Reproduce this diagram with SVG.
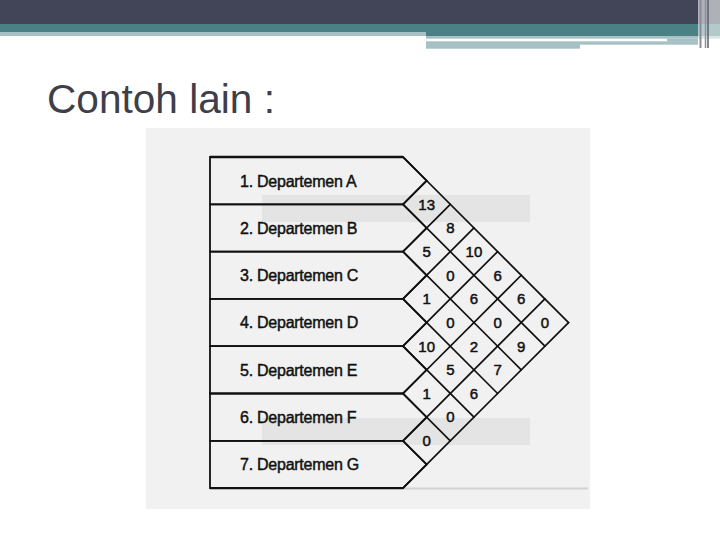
<svg xmlns="http://www.w3.org/2000/svg" width="720" height="540" viewBox="0 0 720 540">
<style>
.dep{font-family:"Liberation Sans",Arial,sans-serif;font-size:16px;fill:#111;stroke:#111;stroke-width:0.45;letter-spacing:-0.25px}
.num{font-family:"Liberation Sans",Arial,sans-serif;font-size:15px;fill:#111;stroke:#111;stroke-width:0.5;text-anchor:middle}
.box{fill:none;stroke:#111;stroke-width:1.8;stroke-linejoin:miter}
.grid line{stroke:#111;stroke-width:1.7;stroke-linecap:round}
.band-light{fill:#a6c1c3}
.teal{fill:#4a8185}
</style>
<rect width="720" height="540" fill="#ffffff"/>
<!-- header -->
<g id="header">
<rect x="0" y="0" width="720" height="24" fill="#424457"/>
<rect x="0" y="24" width="426" height="8" class="teal"/>
<rect x="426" y="24" width="294" height="12" class="teal"/>
<rect x="0" y="32" width="426" height="4" class="band-light"/>
<rect x="426" y="36" width="294" height="2.7" class="band-light"/>
<rect x="426" y="41.3" width="154" height="7.4" class="band-light"/>
<rect x="580" y="41.3" width="118" height="3.4" class="band-light"/>
<rect x="667" y="38.7" width="31" height="3" class="band-light"/>
<rect x="698" y="0" width="22" height="48" fill="#ffffff" fill-opacity="0.58"/>
<line x1="700.5" y1="0" x2="700.5" y2="48" stroke="#8a8b99" stroke-width="2"/>
<line x1="705.5" y1="0" x2="705.5" y2="48" stroke="#8f909c" stroke-width="1.5"/>
<line x1="708" y1="0" x2="708" y2="48" stroke="#5c5e6e" stroke-width="1.5"/>
</g>
<text x="47" y="113" font-family="Liberation Sans,Arial,sans-serif" font-size="41" fill="#3f3f4a" textLength="228" lengthAdjust="spacingAndGlyphs">Contoh lain :</text>
<!-- scanned area -->
<rect x="146" y="128" width="444" height="381" fill="#f1f1f1"/>
<rect x="262" y="195" width="268" height="27" fill="#e4e4e4"/>
<rect x="262" y="418" width="268" height="27" fill="#e4e4e4"/>
<line x1="403" y1="488.5" x2="588" y2="488.5" stroke="#d2d2d2" stroke-width="2"/>
<!-- departments -->
<g id="dept-A"><polygon class="box" points="210,157 403,157 426.65,180.65 403,204.3 210,204.3"/><text class="dep" x="240" y="186.5">1. Departemen A</text></g>
<g id="dept-B"><polygon class="box" points="210,204.3 403,204.3 426.65,227.95 403,251.6 210,251.6"/><text class="dep" x="240" y="233.8">2. Departemen B</text></g>
<g id="dept-C"><polygon class="box" points="210,251.6 403,251.6 426.65,275.25 403,298.9 210,298.9"/><text class="dep" x="240" y="281.1">3. Departemen C</text></g>
<g id="dept-D"><polygon class="box" points="210,298.9 403,298.9 426.65,322.55 403,346.2 210,346.2"/><text class="dep" x="240" y="328.4">4. Departemen D</text></g>
<g id="dept-E"><polygon class="box" points="210,346.2 403,346.2 426.65,369.85 403,393.5 210,393.5"/><text class="dep" x="240" y="375.7">5. Departemen E</text></g>
<g id="dept-F"><polygon class="box" points="210,393.5 403,393.5 426.65,417.15 403,440.8 210,440.8"/><text class="dep" x="240" y="423">6. Departemen F</text></g>
<g id="dept-G"><polygon class="box" points="210,440.8 403,440.8 426.65,464.45 403,488.1 210,488.1"/><text class="dep" x="240" y="470.3">7. Departemen G</text></g>
<line x1="210" y1="157" x2="403" y2="157" stroke="#111" stroke-width="2.4"/>
<line x1="210" y1="488.1" x2="403" y2="488.1" stroke="#111" stroke-width="2.4"/>
<!-- lattice -->
<g id="connectors" class="grid">
<line x1="403" y1="157" x2="568.55" y2="322.55"/>
<line x1="403" y1="204.3" x2="544.9" y2="346.2"/>
<line x1="403" y1="251.6" x2="521.25" y2="369.85"/>
<line x1="403" y1="298.9" x2="497.6" y2="393.5"/>
<line x1="403" y1="346.2" x2="473.95" y2="417.15"/>
<line x1="403" y1="393.5" x2="450.3" y2="440.8"/>
<line x1="403" y1="440.8" x2="426.65" y2="464.45"/>
<line x1="403" y1="204.3" x2="426.65" y2="180.65"/>
<line x1="403" y1="251.6" x2="450.3" y2="204.3"/>
<line x1="403" y1="298.9" x2="473.95" y2="227.95"/>
<line x1="403" y1="346.2" x2="497.6" y2="251.6"/>
<line x1="403" y1="393.5" x2="521.25" y2="275.25"/>
<line x1="403" y1="440.8" x2="544.9" y2="298.9"/>
<line x1="403" y1="488.1" x2="568.55" y2="322.55"/>
</g>
<!-- cells -->
<g id="cell-AB"><text class="num" x="426.65" y="209.6">13</text></g>
<g id="cell-BC"><text class="num" x="426.65" y="256.9">5</text></g>
<g id="cell-CD"><text class="num" x="426.65" y="304.2">1</text></g>
<g id="cell-DE"><text class="num" x="426.65" y="351.5">10</text></g>
<g id="cell-EF"><text class="num" x="426.65" y="398.8">1</text></g>
<g id="cell-FG"><text class="num" x="426.65" y="446.1">0</text></g>
<g id="cell-AC"><text class="num" x="450.3" y="233.3">8</text></g>
<g id="cell-BD"><text class="num" x="450.3" y="280.55">0</text></g>
<g id="cell-CE"><text class="num" x="450.3" y="327.85">0</text></g>
<g id="cell-DF"><text class="num" x="450.3" y="375.15">5</text></g>
<g id="cell-EG"><text class="num" x="450.3" y="422.45">0</text></g>
<g id="cell-AD"><text class="num" x="473.95" y="256.9">10</text></g>
<g id="cell-BE"><text class="num" x="473.95" y="304.2">6</text></g>
<g id="cell-CF"><text class="num" x="473.95" y="351.5">2</text></g>
<g id="cell-DG"><text class="num" x="473.95" y="398.8">6</text></g>
<g id="cell-AE"><text class="num" x="497.6" y="280.55">6</text></g>
<g id="cell-BF"><text class="num" x="497.6" y="327.85">0</text></g>
<g id="cell-CG"><text class="num" x="497.6" y="375.15">7</text></g>
<g id="cell-AF"><text class="num" x="521.25" y="304.2">6</text></g>
<g id="cell-BG"><text class="num" x="521.25" y="351.5">9</text></g>
<g id="cell-AG"><text class="num" x="544.9" y="327.85">0</text></g>
</svg>
